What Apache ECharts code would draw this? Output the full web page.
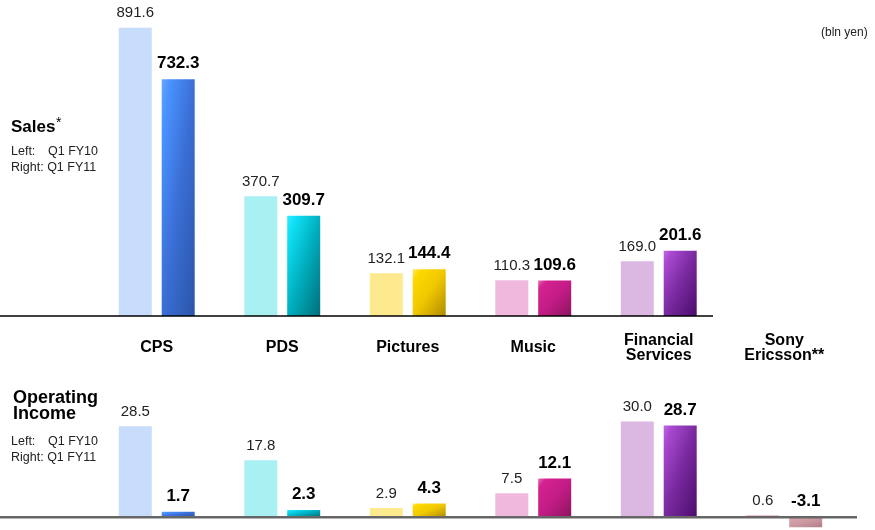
<!DOCTYPE html>
<html>
<head>
<meta charset="utf-8">
<script src="https://cdn.jsdelivr.net/npm/echarts@6/dist/echarts.min.js"></script>
<style>
html,body{margin:0;padding:0;background:#fff;}
#c{width:875px;height:530px;}
</style>
</head>
<body>
<div id="c"></div>
<script>
var categories = ['CPS', 'PDS', 'Pictures', 'Music', 'Financial\nServices', 'Sony\nEricsson**'];
var salesFY10 = [891.6, 370.7, 132.1, 110.3, 169.0, null];
var salesFY11 = [732.3, 309.7, 144.4, 109.6, 201.6, null];
var oiFY10 = [28.5, 17.8, 2.9, 7.5, 30.0, 0.6];
var oiFY11 = [1.7, 2.3, 4.3, 12.1, 28.7, -3.1];

var lightColors = ['#c8dcfc', '#a8f0f2', '#fde98e', '#f0b8dc', '#dab8e2', '#e4b0b8'];
var darkStops = [
  ['#68a6ff', '#4a92ff', '#3b6fd6', '#2a55a8'],
  ['#30ecff', '#10e0f6', '#00b0c0', '#006e7a'],
  ['#ffe870', '#ffd800', '#f0c800', '#b08a00'],
  ['#e070b8', '#d42290', '#c41c86', '#8c145e'],
  ['#c068e8', '#a848d0', '#7a2aa0', '#4c0c6c'],
  ['#deaeb6', '#d6a2aa', '#cc98a0', '#b07e88']
];
var FONT = '"Liberation Sans", Arial, sans-serif';
var BAR_W = 33;

function grad(i, g) {
  var s = darkStops[i];
  g = g || {x2: 1, y2: 1};
  return new echarts.graphic.LinearGradient(0, 0, g.x2, g.y2, [
    {offset: 0, color: s[0]}, {offset: 0.13, color: s[1]}, {offset: 0.5, color: s[2]}, {offset: 1, color: s[3]}
  ]);
}
function lightData(arr) {
  return arr.map(function (v, i) { return {value: v, itemStyle: {color: lightColors[i]}}; });
}
function darkData(arr, gs) {
  return arr.map(function (v, i) { return {value: v, itemStyle: {color: grad(i, gs ? gs[i] : null)}}; });
}
var fmt = function (p) { return p.value == null ? '' : p.value.toFixed(1); };
var lightLabel = {show: true, position: 'top', distance: 7, color: '#222', fontFamily: FONT, fontSize: 15, formatter: fmt};
var darkLabel = {show: true, position: 'top', distance: 7, color: '#000', fontFamily: FONT, fontSize: 17, fontWeight: 'bold', formatter: fmt};

var chart = echarts.init(document.getElementById('c'), null, {renderer: 'canvas'});
var option = {
  animation: false,
  backgroundColor: '#fff',
  grid: [
    {left: 94, width: 753, top: 25, height: 291},
    {left: 94, width: 753, top: 415, height: 115}
  ],
  xAxis: [
    {type: 'category', gridIndex: 0, data: categories, axisLine: {show: false}, axisTick: {show: false},
      axisLabel: {margin: 32, verticalAlign: 'middle', color: '#000', fontFamily: FONT, fontSize: 16, fontWeight: 'bold', lineHeight: 15, interval: 0}},
    {type: 'category', gridIndex: 1, data: categories, axisLine: {show: false}, axisTick: {show: false}, axisLabel: {show: false}}
  ],
  yAxis: [
    {type: 'value', gridIndex: 0, min: 0, max: 900, show: false, splitLine: {show: false}},
    {type: 'value', gridIndex: 1, min: -4, max: 32, show: false, splitLine: {show: false}}
  ],
  series: [
    {name: 'Q1 FY10', type: 'bar', xAxisIndex: 0, yAxisIndex: 0, barWidth: BAR_W, barGap: '30%', data: lightData(salesFY10), label: lightLabel},
    {name: 'Q1 FY11', type: 'bar', xAxisIndex: 0, yAxisIndex: 0, barWidth: BAR_W, barGap: '30%', data: darkData(salesFY11), label: darkLabel},
    {name: 'Q1 FY10', type: 'bar', xAxisIndex: 1, yAxisIndex: 1, barWidth: BAR_W, barGap: '30%', data: lightData(oiFY10), label: lightLabel},
    {name: 'Q1 FY11', type: 'bar', xAxisIndex: 1, yAxisIndex: 1, barWidth: BAR_W, barGap: '30%', data: darkData(oiFY11), label: darkLabel}
  ]
};
chart.setOption(option);

// bounding-box style diagonal gradient (value = (u+v)/2) mapped to a pixel-space linear gradient
function gradGeom(arr, axisIdx) {
  var base = chart.convertToPixel({yAxisIndex: axisIdx}, 0);
  return arr.map(function (v) {
    if (v == null) return null;
    var h = Math.max(1, Math.abs(chart.convertToPixel({yAxisIndex: axisIdx}, v) - base));
    var w = BAR_W, d = h * h + w * w;
    return {x2: 2 * h * h / d, y2: 2 * w * w / d};
  });
}
var yTop0 = chart.convertToPixel({yAxisIndex: 0}, 0);
var yBot0 = chart.convertToPixel({yAxisIndex: 1}, 0);
var txt = function (x, y, t, size, weight, extra) {
  var st = {text: t, fill: '#000', font: (weight || 'normal') + ' ' + size + 'px ' + FONT, textVerticalAlign: 'middle'};
  if (extra) for (var k in extra) st[k] = extra[k];
  return {type: 'text', x: x, y: y, style: st, z: 100};
};
chart.setOption({
  series: [
    {}, {data: darkData(salesFY11, gradGeom(salesFY11, 0))},
    {}, {data: darkData(oiFY11, gradGeom(oiFY11, 1))}
  ],
  graphic: [
    {type: 'line', shape: {x1: 0, y1: yTop0, x2: 713, y2: yTop0}, style: {stroke: '#000', lineWidth: 1.5}, z: 100},
    {type: 'line', shape: {x1: 0, y1: yBot0, x2: 857, y2: yBot0}, style: {stroke: '#666', lineWidth: 2.5}, z: 100},
    txt(11, 127, 'Sales', 17, 'bold'),
    txt(56, 123, '*', 14, 'normal'),
    txt(11, 152, 'Left:', 12.5, 'normal', {fill: '#222'}),
    txt(48, 152, 'Q1 FY10', 12.5, 'normal', {fill: '#222'}),
    txt(11, 168, 'Right: Q1 FY11', 12.5, 'normal', {fill: '#222'}),
    txt(13, 398, 'Operating', 18, 'bold'),
    txt(13, 414, 'Income', 18, 'bold'),
    txt(11, 442, 'Left:', 12.5, 'normal', {fill: '#222'}),
    txt(48, 442, 'Q1 FY10', 12.5, 'normal', {fill: '#222'}),
    txt(11, 458, 'Right: Q1 FY11', 12.5, 'normal', {fill: '#222'}),
    txt(821, 33, '(bln yen)', 12, 'normal', {fill: '#222'})
  ]
});
</script>
</body>
</html>
